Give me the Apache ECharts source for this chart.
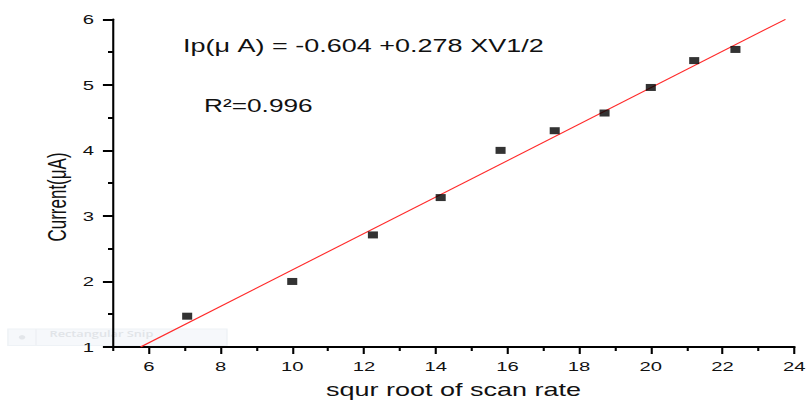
<!DOCTYPE html>
<html>
<head>
<meta charset="utf-8">
<script src="https://cdn.jsdelivr.net/npm/echarts@6/dist/echarts.min.js"></script>
<style>
  html, body { margin: 0; padding: 0; background: #fff; overflow: hidden; }
  /* the plot is laid out narrow and widened horizontally, like the exported figure */
  #chart { width: 540px; height: 404px; transform: scaleX(1.5); transform-origin: 0 0; }
</style>
</head>
<body>
<div id="chart"></div>
<script>
// square root of scan rate (x) and peak current in µA (y)
const sqrtScanRate = [7.07, 10.0, 12.25, 14.14, 15.81, 17.32, 18.71, 20.0, 21.21, 22.36];
const currentUA   = [1.47, 2.00, 2.71, 3.28, 4.00, 4.30, 4.57, 4.96, 5.37, 5.54];

// linear fit stated on the chart: Ip = intercept + slope * v^1/2
const fitIntercept = -0.604;
const fitSlope = 0.278;
const fitR2 = 0.996;

// axis ranges and tick values
const xRange = [5, 24];
const yRange = [1, 6];
const xMajorTicks = [6, 8, 10, 12, 14, 16, 18, 20, 22, 24];
const xMinorTicks = [5, 7, 9, 11, 13, 15, 17, 19, 21, 23];

const points = sqrtScanRate.map((x, i) => [x, currentUA[i]]);
// fit line clipped to the visible current range
const fitLine = [yRange[0], yRange[1]].map(y => [(y - fitIntercept) / fitSlope, y]);

const font = 'Liberation Sans, Arial, sans-serif';
const chart = echarts.init(document.getElementById('chart'), null, { renderer: 'svg' });

chart.setOption({
  backgroundColor: '#fff',
  animation: false,
  grid: { left: 75.3, top: 19.3, right: 7.4, bottom: 53 },
  xAxis: [
    {
      type: 'value', min: xRange[0], max: xRange[1], position: 'bottom',
      splitLine: { show: false },
      axisLine: { show: true, lineStyle: { color: '#000', width: 2 } },
      axisTick: { show: true, customValues: xMajorTicks, length: 7, lineStyle: { color: '#000', width: 1.4 } },
      axisLabel: { customValues: xMajorTicks, margin: 12, color: '#111', fontSize: 13.5, fontFamily: font },
      name: 'squr root of scan rate', nameLocation: 'middle', nameGap: 34,
      nameTextStyle: { color: '#111', fontSize: 18, fontFamily: font }
    },
    {
      type: 'value', min: xRange[0], max: xRange[1], position: 'bottom',
      splitLine: { show: false },
      axisLine: { show: false },
      axisTick: { show: true, customValues: xMinorTicks, length: 4, lineStyle: { color: '#000', width: 1.4 } },
      axisLabel: { show: false }
    }
  ],
  yAxis: {
    type: 'value', min: yRange[0], max: yRange[1], interval: 1,
    splitLine: { show: false },
    axisLine: { show: true, lineStyle: { color: '#000', width: 1.4 } },
    axisTick: { show: true, length: 6.7, lineStyle: { color: '#000', width: 2 } },
    minorTick: { show: true, splitNumber: 2, length: 3.3, lineStyle: { color: '#000', width: 2 } },
    axisLabel: { margin: 12.7, color: '#111', fontSize: 13.5, fontFamily: font }
  },
  graphic: [
    // faint leftover toolbar strip behind the lower-left corner
    { type: 'rect', z: -10, silent: true, shape: { x: 5.3, y: 329, width: 146, height: 16.5 },
      style: { fill: '#f6f8fb', stroke: '#eef2f6', lineWidth: 1 } },
    { type: 'line', z: -10, silent: true, shape: { x1: 24, y1: 329, x2: 24, y2: 345.5 },
      style: { stroke: '#eef1f5', lineWidth: 1 } },
    { type: 'circle', z: -10, silent: true, shape: { cx: 14.7, cy: 337.3, r: 2.2 },
      style: { fill: '#e3e6ea' } },
    { type: 'text', z: -10, silent: true, x: 33, y: 333.5,
      style: { text: 'Rectangular Snip', fill: '#e1e4e8', font: '600 8.5px "Open Sans", sans-serif', align: 'left', verticalAlign: 'middle' } },
    // fit equation and coefficient of determination
    { type: 'text', x: 122, y: 46,
      style: { text: 'Ip(\u03bc A) = ' + fitIntercept.toFixed(3) + ' +' + fitSlope.toFixed(3) + ' XV1/2',
               fill: '#111', font: '18px ' + font, align: 'left', verticalAlign: 'middle' } },
    { type: 'text', x: 136, y: 106,
      style: { text: 'R\u00b2=' + fitR2.toFixed(3), fill: '#111', font: '17.5px ' + font, align: 'left', verticalAlign: 'middle' } },
    // vertical axis title
    { type: 'text', x: 38, y: 197, rotation: Math.PI / 2,
      style: { text: 'Current(\u03bcA)', fill: '#111', font: '17px ' + font, align: 'center', verticalAlign: 'middle' } }
  ],
  series: [
    {
      type: 'line', data: fitLine, symbol: 'none', silent: true, z: 2,
      lineStyle: { color: '#ff2a2a', width: 1 }
    },
    {
      type: 'scatter', data: points, symbol: 'rect', symbolSize: [6.7, 7], z: 3,
      itemStyle: { color: '#000' }
    }
  ]
});
</script>
</body>
</html>
